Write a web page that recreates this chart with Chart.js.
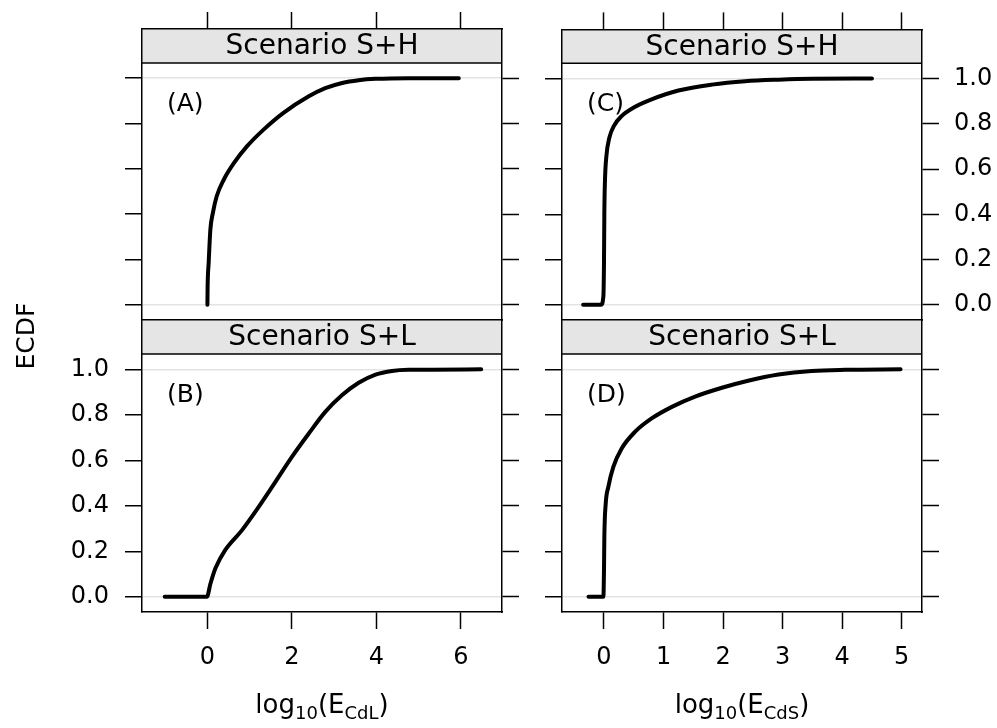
<!DOCTYPE html>
<html>
<head>
<meta charset="utf-8">
<script src="https://cdn.jsdelivr.net/npm/chart.js@4.4.1/dist/chart.umd.min.js"></script>
<style>
  html, body { margin: 0; padding: 0; background: #fff; }
  #wrap { position: relative; width: 997px; height: 728px; }
  #wrap canvas { position: absolute; left: 0; top: 0; }
</style>
</head>
<body>
<div id="wrap">
  <canvas id="pA" width="997" height="728"></canvas>
  <canvas id="pB" width="997" height="728"></canvas>
  <canvas id="pC" width="997" height="728"></canvas>
  <canvas id="pD" width="997" height="728"></canvas>
</div>
<script>
// --- tick labels / categories ---
const yTicks = [0, 0.2, 0.4, 0.6, 0.8, 1.0];
const xTicksL = [0, 2, 4, 6];
const xTicksR = [0, 1, 2, 3, 4, 5];
const stripLabels = ['Scenario S+H', 'Scenario S+L'];
const panelTags = ['(A)', '(B)', '(C)', '(D)'];
const yTitle = 'ECDF';
const xTitleSubs = ['CdL', 'CdS'];

// --- ECDF curves ---
// (A) Scenario S+H, log10(E_CdL)
const ecdfA_x = [0, 0.005, 0.03, 0.07, 0.13, 0.22, 0.39, 0.63, 0.94, 1.33, 1.80, 2.40, 2.79, 3.19, 3.58, 3.98, 4.76, 5.95];
const ecdfA_y = [0, 0.08, 0.185, 0.332, 0.406, 0.479, 0.553, 0.626, 0.700, 0.773, 0.847, 0.920, 0.956, 0.979, 0.991, 0.997, 1.0, 1.0];
// (B) Scenario S+L, log10(E_CdL)
const ecdfB_x = [-1.01, -0.01, 0.07, 0.19, 0.42, 0.82, 1.21, 1.61, 2.00, 2.40, 2.79, 3.19, 3.58, 3.98, 4.37, 4.76, 6.48];
const ecdfB_y = [0, 0, 0.056, 0.125, 0.205, 0.293, 0.394, 0.505, 0.615, 0.718, 0.813, 0.887, 0.941, 0.977, 0.993, 0.998, 1.0];
// (C) Scenario S+H, log10(E_CdS)
const ecdfC_x = [-0.35, -0.05, -0.01, 0.0, 0.006, 0.017, 0.04, 0.09, 0.17, 0.30, 0.50, 0.80, 1.25, 1.81, 2.37, 2.93, 3.49, 4.50];
const ecdfC_y = [0, 0, 0.038, 0.185, 0.406, 0.553, 0.656, 0.738, 0.792, 0.835, 0.872, 0.908, 0.947, 0.973, 0.988, 0.995, 0.999, 1.0];
// (D) Scenario S+L, log10(E_CdS)
const ecdfD_x = [-0.26, -0.01, 0.0, 0.006, 0.029, 0.073, 0.157, 0.297, 0.52, 0.80, 1.14, 1.53, 1.98, 2.42, 2.93, 3.49, 4.05, 4.98];
const ecdfD_y = [0, 0, 0.115, 0.262, 0.409, 0.483, 0.571, 0.652, 0.725, 0.784, 0.835, 0.880, 0.919, 0.950, 0.977, 0.993, 0.998, 1.0];

const FONT = "'DejaVu Sans', Verdana, sans-serif";
const Y_MIN = -0.067, Y_PLOT_TOP = 1.067, Y_MAX = 1.217;
const X_LEFT = [-1.548, 6.973];
const X_RIGHT = [-0.705, 5.34];

// strip, panel tag and axis titles (lattice style)
const latticePlugin = {
  id: 'lattice',
  beforeDraw(chart, args, opts) {
    const { ctx, chartArea: a, scales } = chart;
    const yb = scales.y.getPixelForValue(Y_PLOT_TOP);
    ctx.save();
    ctx.fillStyle = '#e5e5e5';
    ctx.fillRect(a.left, a.top, a.right - a.left, yb - a.top);
    ctx.strokeStyle = '#000';
    ctx.lineWidth = 1.5;
    ctx.beginPath();
    ctx.moveTo(a.left, yb);
    ctx.lineTo(a.right, yb);
    ctx.stroke();
    ctx.fillStyle = '#000';
    ctx.font = '28px ' + FONT;
    ctx.textAlign = 'center';
    ctx.textBaseline = 'middle';
    ctx.fillText(opts.strip, (a.left + a.right) / 2, (a.top + yb) / 2 + 1);
    ctx.restore();
  },
  afterDraw(chart, args, opts) {
    const { ctx, chartArea: a, scales } = chart;
    ctx.save();
    ctx.fillStyle = '#000';
    ctx.font = '25px ' + FONT;
    ctx.textAlign = 'left';
    ctx.textBaseline = 'middle';
    ctx.fillText(opts.tag, a.left + 25, scales.y.getPixelForValue(0.885));
    if (opts.xTitle) {
      const parts = [['log', 26, 0], ['10', 18, 6], ['(E', 26, 0], [opts.xTitle, 18, 6], [')', 26, 0]];
      let w = 0;
      parts.forEach(p => { ctx.font = p[1] + 'px ' + FONT; w += ctx.measureText(p[0]).width; });
      let x = (a.left + a.right) / 2 - w / 2;
      ctx.textBaseline = 'alphabetic';
      parts.forEach(p => {
        ctx.font = p[1] + 'px ' + FONT;
        ctx.fillText(p[0], x, 713 + p[2]);
        x += ctx.measureText(p[0]).width;
      });
    }
    if (opts.yTitle) {
      ctx.translate(27, 336);
      ctx.rotate(-Math.PI / 2);
      ctx.font = '25px ' + FONT;
      ctx.textAlign = 'center';
      ctx.textBaseline = 'middle';
      ctx.fillText(opts.yTitle, 0, 0);
    }
    ctx.restore();
  }
};

function fixedTicks(list) {
  return scale => { scale.ticks = list.map(v => ({ value: v })); };
}

// axis box sizes; the rest of the margin is layout padding
const BOX_L = 110, BOX_R = 75, BOX_T = 25, BOX_B = 70;

function makePanel(id, p) {
  const pts = p.xs.map((x, i) => ({ x: x, y: p.ys[i] }));
  const tickFont = { family: FONT, size: 24 };
  const edge = { display: true, color: '#000', width: 1.5 };
  return new Chart(document.getElementById(id), {
    type: 'line',
    data: {
      datasets: [{
        data: pts,
        borderColor: '#000',
        borderWidth: 4,
        borderCapStyle: 'round',
        borderJoinStyle: 'round',
        pointRadius: 0,
        fill: false,
        cubicInterpolationMode: 'monotone'
      }]
    },
    options: {
      responsive: false,
      animation: false,
      events: [],
      layout: { padding: p.pad },
      plugins: {
        legend: { display: false },
        tooltip: { enabled: false },
        lattice: { strip: p.strip, tag: p.tag, xTitle: p.xTitle, yTitle: p.yTitle }
      },
      scales: {
        x: {
          type: 'linear', position: 'bottom', min: p.xr[0], max: p.xr[1],
          afterBuildTicks: fixedTicks(p.xTicks),
          afterFit: s => { s.height = BOX_B; },
          border: edge,
          grid: { drawOnChartArea: false, drawTicks: p.bottom, tickLength: 17, tickColor: '#000', tickWidth: 1.5 },
          ticks: { display: p.bottom, color: '#000', font: tickFont, padding: 14, maxRotation: 0, autoSkip: false }
        },
        xt: {
          type: 'linear', position: 'top', min: p.xr[0], max: p.xr[1],
          afterBuildTicks: fixedTicks(p.xTicks),
          afterFit: s => { s.height = BOX_T; },
          border: edge,
          grid: { drawOnChartArea: false, drawTicks: !p.bottom, tickLength: 17, tickColor: '#000', tickWidth: 1.5 },
          ticks: { display: false }
        },
        y: {
          type: 'linear', position: 'left', min: Y_MIN, max: Y_MAX,
          afterBuildTicks: fixedTicks(yTicks),
          afterFit: s => { s.width = BOX_L; },
          border: edge,
          grid: {
            drawOnChartArea: true, drawTicks: true, tickLength: 17, tickColor: '#000', tickWidth: 1.5,
            lineWidth: 1.5,
            color: c => (c.tick && (c.tick.value === 0 || c.tick.value === 1)) ? '#e3e3e3' : 'rgba(0,0,0,0)'
          },
          ticks: { display: p.leftLab, color: '#000', font: tickFont, padding: 16, autoSkip: false,
                   callback: v => v.toFixed(1) }
        },
        yr: {
          type: 'linear', position: 'right', min: Y_MIN, max: Y_MAX,
          afterBuildTicks: fixedTicks(yTicks),
          afterFit: s => { s.width = BOX_R; },
          border: edge,
          grid: { drawOnChartArea: false, drawTicks: true, tickLength: 17, tickColor: '#000', tickWidth: 1.5 },
          ticks: { display: p.rightLab, color: '#000', font: tickFont, padding: 15, autoSkip: false,
                   callback: v => v.toFixed(1) }
        }
      }
    },
    plugins: [latticePlugin]
  });
}

const W = 997, H = 728;
const colL = [142, 502], colR = [562, 922];
const rowT = [29, 320], rowB = [320, 612];
function pad(col, row) {
  return { left: col[0] - BOX_L, right: W - col[1] - BOX_R, top: row[0] - BOX_T, bottom: H - row[1] - BOX_B };
}

makePanel('pA', { xs: ecdfA_x, ys: ecdfA_y, xr: X_LEFT, xTicks: xTicksL, pad: pad(colL, rowT),
  strip: stripLabels[0], tag: panelTags[0], bottom: false, leftLab: false, rightLab: false });
makePanel('pB', { xs: ecdfB_x, ys: ecdfB_y, xr: X_LEFT, xTicks: xTicksL, pad: pad(colL, rowB),
  strip: stripLabels[1], tag: panelTags[1], bottom: true, leftLab: true, rightLab: false,
  xTitle: xTitleSubs[0], yTitle: yTitle });
makePanel('pC', { xs: ecdfC_x, ys: ecdfC_y, xr: X_RIGHT, xTicks: xTicksR, pad: pad(colR, rowT),
  strip: stripLabels[0], tag: panelTags[2], bottom: false, leftLab: false, rightLab: true });
makePanel('pD', { xs: ecdfD_x, ys: ecdfD_y, xr: X_RIGHT, xTicks: xTicksR, pad: pad(colR, rowB),
  strip: stripLabels[1], tag: panelTags[3], bottom: true, leftLab: false, rightLab: false,
  xTitle: xTitleSubs[1] });
</script>
</body>
</html>
